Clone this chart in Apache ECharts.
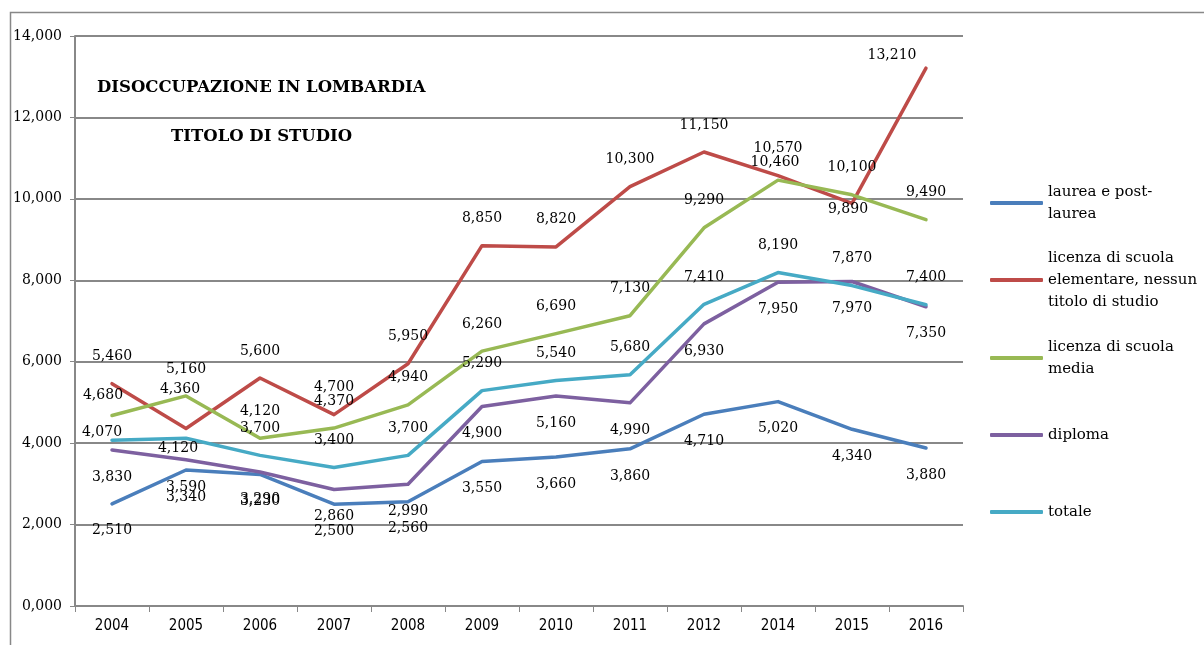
<!DOCTYPE html>
<html>
<head>
<meta charset="utf-8">
<script src="https://cdn.jsdelivr.net/npm/echarts@6/dist/echarts.min.js"></script>
<style>
  html, body { margin: 0; padding: 0; background: #fff; }
  #chart { width: 1204px; height: 645px; }
</style>
</head>
<body>
<div id="chart"></div>
<script>
// anni (2013 manca nella tabella originale)
const years = ["2004", "2005", "2006", "2007", "2008", "2009", "2010", "2011", "2012", "2014", "2015", "2016"]

const laurea = [2510, 3340, 3230, 2500, 2560, 3550, 3660, 3860, 4710, 5020, 4340, 3880]
const elementare = [5460, 4360, 5600, 4700, 5950, 8850, 8820, 10300, 11150, 10570, 9890, 13210]
const media = [4680, 5160, 4120, 4370, 4940, 6260, 6690, 7130, 9290, 10460, 10100, 9490]
const diploma = [3830, 3590, 3290, 2860, 2990, 4900, 5160, 4990, 6930, 7950, 7970, 7350]
const totale = [4070, 4120, 3700, 3400, 3700, 5290, 5540, 5680, 7410, 8190, 7870, 7400]

const names = [
  "laurea e post-laurea",
  "licenza di scuola elementare, nessun titolo di studio",
  "licenza di scuola media",
  "diploma",
  "totale"
]
const legendText = [
  "laurea e post-\nlaurea",
  "licenza di scuola\nelementare, nessun\ntitolo di studio",
  "licenza di scuola\nmedia",
  "diploma",
  "totale"
]
const values = [laurea, elementare, media, diploma, totale]
const colors = ["#4a7ebb", "#be4b48", "#98b954", "#7d60a0", "#46aac5"]
const labelPos = ["bottom", "top", "top", "bottom", "top"]

// etichette spostate a mano come nell'originale (serie-indice)
const labelTweaks = {
  "1-1": { position: "top", dx: -6, dy: -12 },
  "1-10": { position: "inside", dx: -4, dy: 6 },
  "1-11": { position: "inside", dx: -34, dy: -13 },
  "2-0": { position: "inside", dx: -9, dy: -20 },
  "2-9": { position: "top", dx: -3, dy: 9 },
  "4-0": { position: "inside", dx: -10, dy: -8 },
  "4-1": { position: "inside", dx: -8, dy: 10 }
}

const fmt = (v) => v.toLocaleString("en-US")

const chart = echarts.init(document.getElementById("chart"))

const serif = "DejaVu Serif"

const series = values.map((arr, s) => ({
  name: names[s],
  type: "line",
  data: arr.map((v, i) => {
    const t = labelTweaks[s + "-" + i]
    return t ? { value: v, label: { position: t.position } } : v
  }),
  // simbolo minuscolo: serve solo per far comparire le etichette
  symbol: "circle",
  symbolSize: 0.1,
  showSymbol: true,
  lineStyle: { color: colors[s], width: 3.5, cap: "round", join: "round" },
  itemStyle: { color: colors[s] },
  label: {
    show: true,
    position: labelPos[s],
    distance: 20,
    formatter: (p) => fmt(p.value),
    color: "#000",
    fontFamily: serif,
    fontSize: 14
  },
  labelLayout: (p) => {
    const t = labelTweaks[s + "-" + p.dataIndex]
    return t ? { dx: t.dx, dy: t.dy } : {}
  },
  z: 3
}))

// ogni voce di legenda in un blocco separato, icona allineata alla prima riga
const legendTops = [170, 225, 325, 424, 501]
const legends = names.map((n, s) => {
  const lines = legendText[s].split("\n").length
  return {
    left: 990,
    top: legendTops[s],
    orient: "vertical",
    padding: 0,
    icon: "roundRect",
    itemWidth: 53,
    itemHeight: 4,
    itemGap: 0,
    selectedMode: false,
    data: [{ name: n, textStyle: { padding: [(lines - 1) * 22, 0, 0, 0] } }],
    formatter: () => legendText[s],
    textStyle: {
      fontFamily: serif,
      fontSize: 15,
      lineHeight: 22,
      color: "#000"
    }
  }
})

const option = {
  animation: false,
  backgroundColor: "#fff",
  title: [
    {
      text: "DISOCCUPAZIONE IN LOMBARDIA",
      left: 97,
      top: 78,
      padding: 0,
      textStyle: { fontFamily: serif, fontWeight: "bold", fontSize: 16.5, lineHeight: 20, color: "#000" }
    },
    {
      text: "TITOLO DI STUDIO",
      left: 171,
      top: 127,
      padding: 0,
      textStyle: { fontFamily: serif, fontWeight: "bold", fontSize: 16.5, lineHeight: 20, color: "#000" }
    }
  ],
  legend: legends,
  grid: { left: 75, right: 241, top: 36, bottom: 39 },
  xAxis: {
    type: "category",
    data: years,
    boundaryGap: true,
    axisLine: { lineStyle: { color: "#888", width: 2 } },
    axisTick: { show: true, length: 6, lineStyle: { color: "#888", width: 1 } },
    axisLabel: {
      margin: 13,
      color: "#000",
      fontFamily: "DejaVu Sans Condensed, Liberation Sans Narrow, sans-serif",
      fontSize: 15
    }
  },
  yAxis: {
    type: "value",
    min: 0,
    max: 14000,
    interval: 2000,
    axisLine: { show: true, lineStyle: { color: "#888", width: 2 } },
    axisTick: { show: true, length: 5, lineStyle: { color: "#888", width: 1 } },
    splitLine: { show: true, lineStyle: { color: "#888", width: 2 } },
    axisLabel: {
      margin: 13,
      color: "#000",
      fontFamily: serif,
      fontSize: 14,
      formatter: (v) => (v === 0 ? "0,000" : fmt(v))
    }
  },
  graphic: [
    {
      type: "rect",
      z: -10,
      silent: true,
      shape: { x: 10.5, y: 12.5, width: 1300, height: 700 },
      style: { fill: "none", stroke: "#888", lineWidth: 1.5 }
    }
  ],
  series: series
}

chart.setOption(option)
window.onresize = () => {
  chart.resize()
}
</script>
</body>
</html>
